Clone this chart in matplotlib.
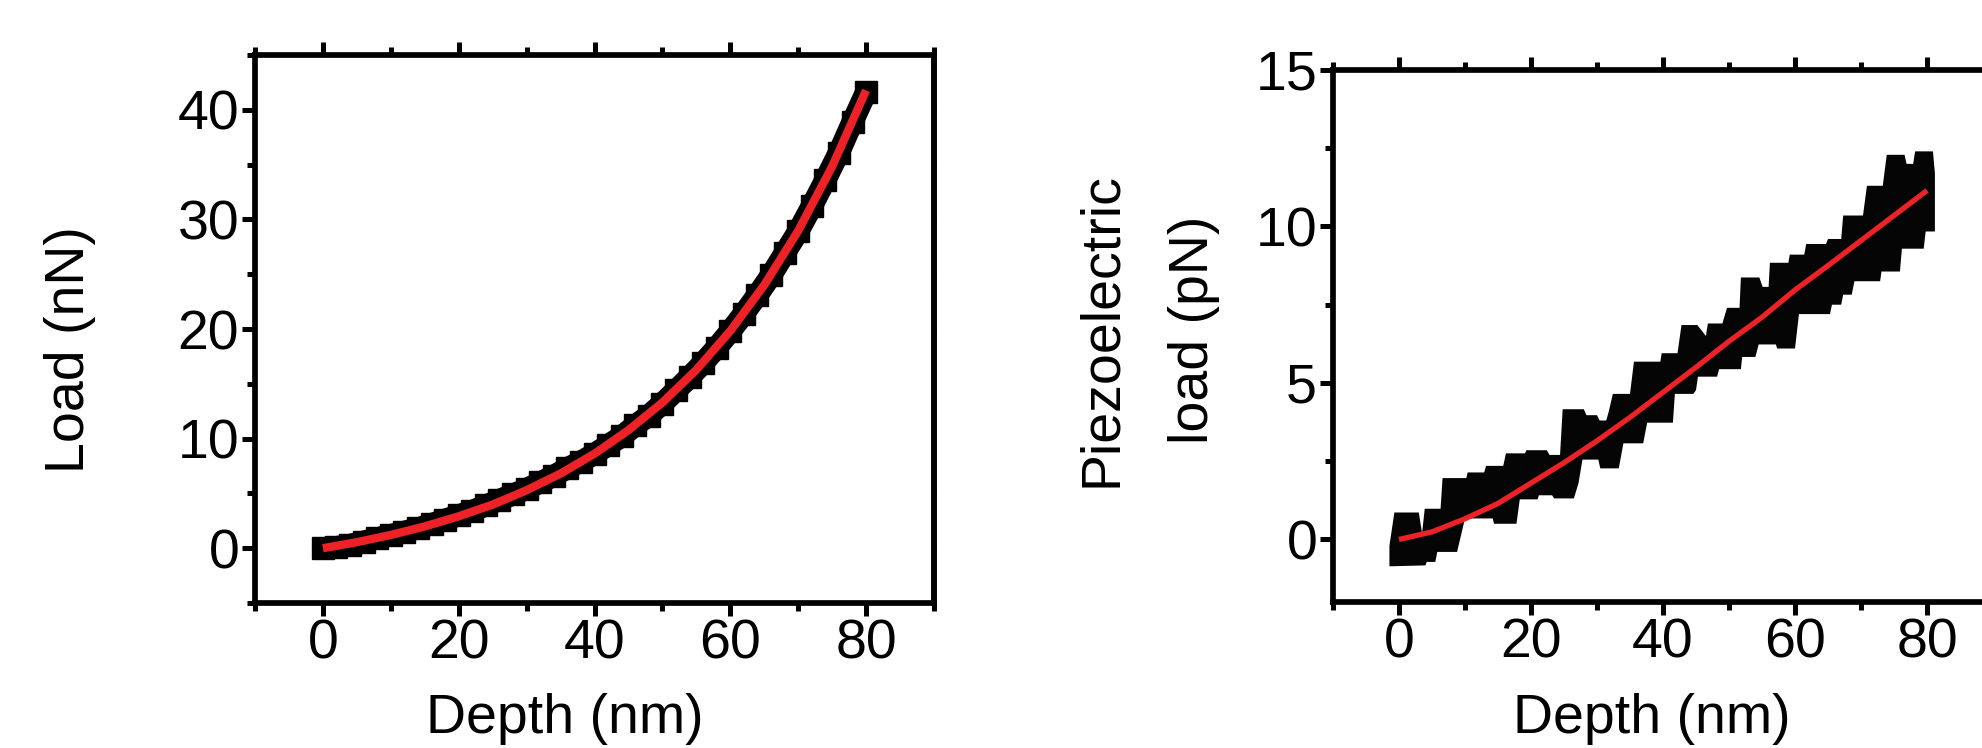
import numpy as np
import matplotlib
matplotlib.use("Agg")
import matplotlib.pyplot as plt
from matplotlib.ticker import MultipleLocator

plt.rcParams['font.family'] = ['Liberation Sans', 'DejaVu Sans']

# left panel: load vs depth (measured points + fit)
depth_meas = list(range(0, 82, 2))
load_meas = [0.0, 0.1, 0.3, 0.6, 0.9, 1.2, 1.5, 1.8, 2.2, 2.6, 3.0, 3.4, 3.9, 4.4,
             4.9, 5.4, 6.0, 6.6, 7.3, 7.9, 8.6, 9.4, 10.2, 11.2, 12.1, 13.2, 14.4,
             15.6, 16.9, 18.3, 19.8, 21.4, 23.1, 24.9, 26.9, 28.9, 31.2, 33.6, 36.1,
             38.9, 41.6]
depth_fit = [0, 5, 10, 15, 20, 25, 30, 35, 40, 45, 50, 55, 60, 65, 70, 75, 80]
load_fit = [0.0, 0.55, 1.21, 1.99, 2.91, 3.98, 5.29, 6.81, 8.62, 10.77, 13.29,
            16.28, 19.82, 24.01, 28.96, 34.83, 41.77]

# right panel: piezoelectric load, outline of the noisy measured band
band_top_x = [-1.45, -1.45, -0.7, 3.0, 3.5, 3.9, 6.3, 6.6, 10.2, 10.4, 12.9, 13.2,
              15.8, 16.2, 19.1, 19.3, 22.4, 22.8, 24.4, 24.8, 28.0, 28.4, 30.0,
              30.4, 31.4, 31.8, 32.4, 35.0, 35.6, 39.6, 39.8, 42.2, 42.8, 45.2,
              46.5, 46.8, 49.0, 49.7, 51.6, 51.8, 54.6, 55.1, 56.0, 56.2, 59.0,
              59.2, 61.4, 61.7, 64.7, 65.0, 67.0, 67.3, 70.3, 70.9, 73.3, 73.9,
              76.6, 76.9, 77.9, 78.2, 80.9, 81.2, 81.2]
band_top_y = [-0.86, -0.2, 0.86, 0.86, 0.2, 0.98, 0.98, 1.96, 1.96, 2.14, 2.14, 2.35,
              2.35, 2.75, 2.75, 2.85, 2.85, 2.7, 2.7, 4.16, 4.16, 3.97, 3.97,
              3.8, 3.8, 4.1, 4.65, 4.65, 5.68, 5.68, 5.95, 5.95, 6.85, 6.85,
              6.5, 6.9, 6.9, 7.4, 7.4, 8.37, 8.37, 8.07, 8.07, 8.84, 8.84,
              9.1, 9.1, 9.44, 9.44, 9.6, 9.6, 10.35, 10.35, 11.3, 11.3, 12.29,
              12.29, 12.0, 12.0, 12.4, 12.4, 11.7, 10.8]
band_low_x = [-1.45, 4.0, 4.2, 5.5, 5.8, 8.8, 10.0, 14.2, 14.4, 17.8, 18.3, 21.0,
              21.2, 23.2, 23.5, 26.5, 27.2, 27.8, 30.2, 30.5, 33.3, 34.0, 37.0,
              37.6, 41.5, 41.8, 44.6, 45.0, 45.3, 48.2, 48.5, 51.8, 52.0, 54.0,
              54.5, 57.1, 57.3, 60.0, 60.6, 65.3, 65.6, 67.0, 67.3, 68.6, 69.0,
              72.9, 73.1, 75.9, 76.2, 79.5, 79.8, 81.2]
band_low_y = [-0.86, -0.83, -0.72, -0.72, -0.4, -0.4, 0.67, 0.67, 0.5, 0.5, 1.28, 1.28,
              1.41, 1.41, 1.31, 1.31, 1.8, 2.55, 2.55, 2.27, 2.27, 3.07, 3.07,
              3.73, 3.73, 4.65, 4.65, 4.77, 5.2, 5.2, 5.44, 5.44, 5.83, 5.83,
              6.23, 6.23, 6.1, 6.1, 7.2, 7.2, 7.5, 7.5, 7.82, 7.82, 8.25,
              8.25, 8.56, 8.56, 9.29, 9.29, 9.84, 9.84]
piezo_fit_x = [0, 5, 10, 15, 20, 25, 30, 35, 40, 45, 50, 55, 60, 65, 70, 75, 80]
piezo_fit_y = [0.0, 0.24, 0.66, 1.15, 1.8, 2.45, 3.15, 3.9, 4.7, 5.5, 6.33, 7.1,
               7.97, 8.75, 9.55, 10.35, 11.15]

RED = '#ec2227'
FS = 40

fig = plt.figure(figsize=(19.82, 7.48), dpi=100)
ax1 = fig.add_axes([0.12866, 0.19385, 0.34258, 0.73262])
ax2 = fig.add_axes([0.67255, 0.19519, 0.333, 0.71123])

# ticks: full length on left/bottom/top
for ax in (ax1, ax2):
    for s in ax.spines.values():
        s.set_linewidth(4.1)
    ax.xaxis.set_major_locator(MultipleLocator(20))
    ax.xaxis.set_minor_locator(MultipleLocator(10))
    ax.tick_params(axis='x', which='both', direction='out', top=True, bottom=True,
                   width=3.6, labelsize=FS, pad=2)
    ax.tick_params(axis='x', which='major', length=9.4)
    ax.tick_params(axis='x', which='minor', length=5.8)
    ax.tick_params(axis='y', which='both', direction='out', left=True, right=True,
                   width=3.6, labelsize=FS, pad=2)
    ax.tick_params(axis='y', which='major', length=9.4)
    ax.tick_params(axis='y', which='minor', length=5.8)

ax1.plot(depth_meas, load_meas, color='k', lw=16, marker='s', ms=16,
         solid_capstyle='butt', solid_joinstyle='round', zorder=2)
ax1.plot(depth_fit, load_fit, color=RED, lw=6, solid_capstyle='butt', zorder=3)
ax1.set_xlim(-10, 90)
ax1.set_ylim(-5, 45)
ax1.yaxis.set_major_locator(MultipleLocator(10))
ax1.yaxis.set_minor_locator(MultipleLocator(5))

band_x = np.r_[band_top_x, band_low_x[::-1]]
band_y = np.r_[band_top_y, band_low_y[::-1]]
ax2.fill(band_x, band_y, color='#050505', lw=0, zorder=2)
ax2.plot(piezo_fit_x, piezo_fit_y, color=RED, lw=3.8, solid_capstyle='butt', zorder=3)
ax2.set_xlim(-10, 90)
ax2.set_ylim(-2, 15)
ax2.yaxis.set_major_locator(MultipleLocator(5))
ax2.yaxis.set_minor_locator(MultipleLocator(2.5))

# short stubs only on the right spine of the left panel
ax1.tick_params(axis='y', which='both', right=False)
ax1r = ax1.secondary_yaxis('right')
ax1r.yaxis.set_major_locator(MultipleLocator(10))
ax1r.yaxis.set_minor_locator(MultipleLocator(5))
ax1r.tick_params(which='both', direction='out', length=1.5, width=3.6, labelright=False)
ax1r.spines['right'].set_linewidth(4.1)

fig.text(565 / 1982, 15 / 748, 'Depth (nm)', ha='center', va='baseline', fontsize=FS)
fig.text(1652 / 1982, 15 / 748, 'Depth (nm)', ha='center', va='baseline', fontsize=FS)
fig.text(70 / 1982, 1 - 350 / 748, 'Load (nN)', rotation=90, ha='center',
         va='center', fontsize=FS)
fig.text(1148 / 1982, 1 - 330 / 748, 'Piezoelectric\nload (pN)', rotation=90,
         ha='center', va='center', multialignment='center', linespacing=2.0,
         fontsize=FS)

fig.savefig('out.png', dpi=100)
